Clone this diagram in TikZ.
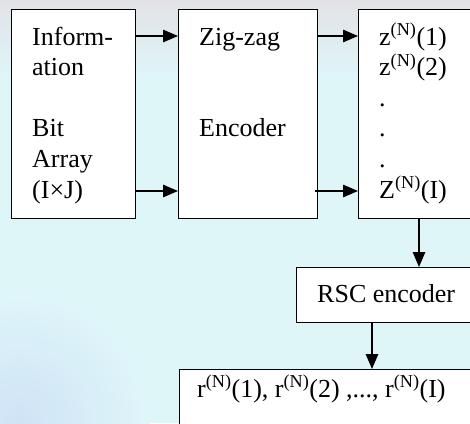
\documentclass[tikz,border=0pt]{standalone}
\usepackage{fontspec}
\setmainfont{Liberation Serif}
\usetikzlibrary{arrows.meta}
\definecolor{bgc}{HTML}{DFF6F9}
\definecolor{topgray}{HTML}{E2E2E6}
\definecolor{lowblue}{HTML}{CFE3F6}
\tikzset{
  box/.style={draw=black, line width=1.4pt, fill=white, anchor=north west, inner sep=0pt},
  txt/.style={anchor=base west, inner sep=0pt, font=\fontsize{26}{30}\selectfont},
  arr/.style={line width=1.4pt, -{Triangle[length=15pt,width=12.5pt]}}
}
\begin{document}
\begin{tikzpicture}[x=1pt,y=-1pt]
\useasboundingbox (0,0) rectangle (470,423);
\clip (0,0) rectangle (470,423);
% background
\fill[bgc] (0,0) rectangle (470,423);
\shade[top color=topgray, bottom color=bgc] (0,0) rectangle (470,80);
\shade[inner color=lowblue, outer color=bgc] (20,420) circle (130pt);
% boxes
\node[box, minimum width=124pt, minimum height=209pt] (b1) at (11,9) {};
\node[box, minimum width=139pt, minimum height=209pt] (b2) at (178,9) {};
\node[box, minimum width=140pt, minimum height=209pt] (b3) at (358,9) {};
\node[box, minimum width=200pt, minimum height=55pt] (rsc) at (296,267) {};
\node[box, minimum width=320pt, minimum height=80pt] (out) at (179,369) {};
% row coordinates
\coordinate (r1) at (0,36);
\coordinate (r2) at (0,191);
\coordinate (c1) at (419,0);
\coordinate (c2) at (372,0);
% box 1 text
\node[txt] (a1) at (32,45) {Inform-};
\node[txt] (a2) at (32,75.6) {ation};
\node[txt] (a3) at (32,136.8) {Bit};
\node[txt] (a4) at (32,167.4) {Array};
\node[txt] (a5) at (32,198) {(I×J)};
% box 2 text
\node[txt] (z1) at (199,45) {Zig-zag};
\node[txt] (z2) at (199,136.8) {Encoder};
% box 3 text
\node[txt] (s1) at (379,45) {z\textsuperscript{(N)}(1)};
\node[txt] (s2) at (379,75.6) {z\textsuperscript{(N)}(2)};
\node[txt] (s3) at (379,106.2) {.};
\node[txt] (s4) at (379,136.8) {.};
\node[txt] (s5) at (379,167.4) {.};
\node[txt] (s6) at (379,198) {Z\textsuperscript{(N)}(I)};
% rsc text
\node[txt] (rt) at (317,302) {RSC encoder};
% output text
\node[txt] (ot) at (197,397) {r\textsuperscript{(N)}(1), r\textsuperscript{(N)}(2) ,..., r\textsuperscript{(N)}(I)};
% arrows
\draw[arr] (b1.east |- r1) -- (b2.west |- r1);
\draw[arr] (b1.east |- r2) -- (b2.west |- r2);
\draw[arr] (b2.east |- r1) -- (b3.west |- r1);
\draw[arr] ([xshift=-3pt]b2.east |- r2) -- (b3.west |- r2);
\draw[arr] (b3.south -| c1) -- (rsc.north -| c1);
\draw[arr] (rsc.south -| c2) -- (out.north -| c2);
\end{tikzpicture}
\end{document}
